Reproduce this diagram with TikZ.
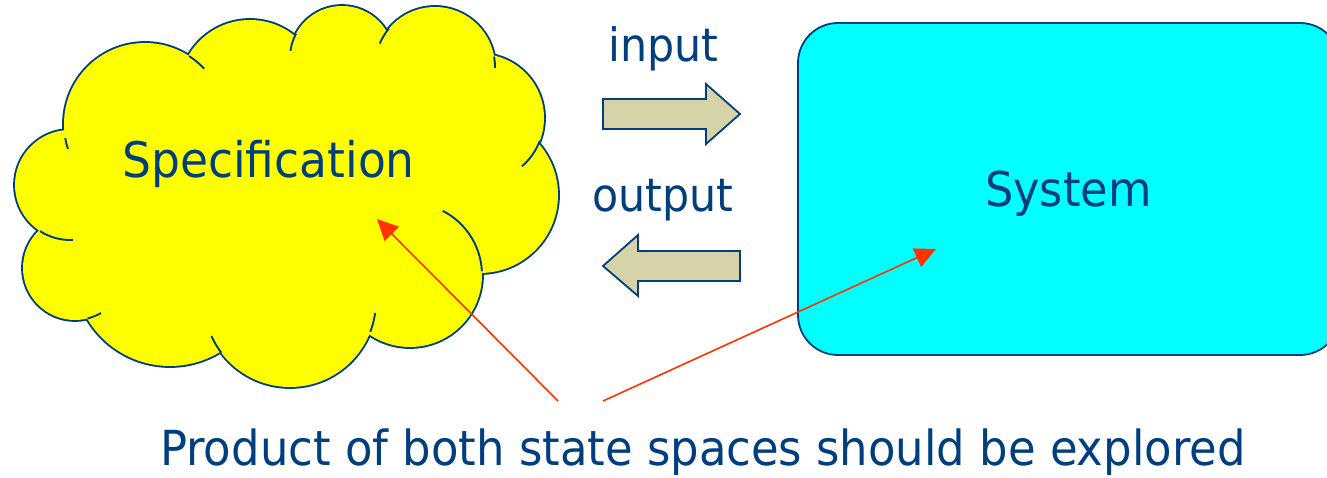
\documentclass[tikz,border=0pt]{standalone}
\usepackage{fontspec}
\newfontfamily\lbl[FakeStretch=0.93]{DejaVu Sans}
\usetikzlibrary{arrows.meta}
\definecolor{navy}{HTML}{003E7E}
\definecolor{cloudfill}{HTML}{FFFF00}
\definecolor{boxfill}{HTML}{00FFFF}
\definecolor{flowfill}{HTML}{D6D3A9}
\definecolor{pointer}{HTML}{FF3300}
\tikzset{
  bumpedge/.style={draw=navy, line width=3.8pt},
  bumpfill/.style={fill=cloudfill},
  hook/.style={draw=navy, line width=1.9pt},
  flowarrow/.style={draw=navy, fill=flowfill, line width=1.8pt, line join=miter},
  sysbox/.style={draw=navy, fill=boxfill, line width=1.8pt, rounded corners=40pt},
  txt/.style={text=navy, inner sep=0pt, anchor=base west},
  pointerline/.style={draw=pointer, line width=1.6pt, -{Triangle[length=21pt,width=20pt]}}
}
\begin{document}
\begin{tikzpicture}[x=1pt,y=1pt]
\useasboundingbox (0,0) rectangle (1327,477);
\clip (0,0) rectangle (1327,477);

% System box (runs past the right edge)
\draw[sysbox] (798,122) rectangle (1340,454);

% Cloud: thick outlines of every bump, then the fill hides the inner half
\foreach \cx/\cy/\r in {70/292/55, 145/353/81, 250/386/71, 342/419/52, 435/410/60,
                        480/359/64, 480/282/78, 410/202/72, 290/176/86, 170/207/96, 75/209/52}
  \path[bumpedge] (\cx,\cy) circle[radius=\r];
\foreach \cx/\cy/\r in {70/292/55, 145/353/81, 250/386/71, 342/419/52, 435/410/60,
                        480/359/64, 480/282/78, 410/202/72, 290/176/86, 170/207/96, 75/209/52}
  \path[bumpfill] (\cx,\cy) circle[radius=\r];
\path[bumpfill] (290,282) ellipse[x radius=200, y radius=130];

% Short inner hooks where the bumps meet
\foreach \cx/\cy/\r/\a/\b in {70/292/55/237/273, 145/353/81/190/198, 145/353/81/57/43,
                              342/419/52/152/172, 435/410/60/140/157, 435/410/60/10/-1,
                              480/359/64/-21/-49, 410/202/72/3/63, 290/176/86/-21/-8,
                              290/176/86/217/204, 75/209/52/-76/-60}
  \draw[hook] (\cx,\cy) ++(\a:\r) arc[start angle=\a, end angle=\b, radius=\r];

% Block arrows between the two parts
\draw[flowarrow] (603,378) -- (706,378) -- (706,393) -- (740,363) -- (706,333) -- (706,348) -- (603,348) -- cycle;
\draw[flowarrow] (740,226) -- (638,226) -- (638,242) -- (603,211) -- (638,181) -- (638,196) -- (740,196) -- cycle;

% Labels
\node[txt, font=\lbl\fontsize{49}{55}\selectfont] (spec) at (122,299) {Specification};
\node[txt, font=\lbl\fontsize{48}{54}\selectfont] (sys) at (985,270) {System};
\node[txt, font=\lbl\fontsize{46}{52}\selectfont] (in) at (608,415) {input};
\node[txt, font=\lbl\fontsize{46}{52}\selectfont] (out) at (592,265) {output};
\node[txt, font=\lbl\fontsize{48.3}{54}\selectfont] (claim) at (160,12) {Product of both state spaces should be explored};

% Pointers from the statement into both parts
\coordinate (specpt) at (377,258);
\coordinate (syspt) at (936,228);
\coordinate (from1) at (558,76);
\coordinate (from2) at (603,76);
\draw[pointerline] (from1) -- (specpt);
\draw[pointerline] (from2) -- (syspt);
\end{tikzpicture}
\end{document}
